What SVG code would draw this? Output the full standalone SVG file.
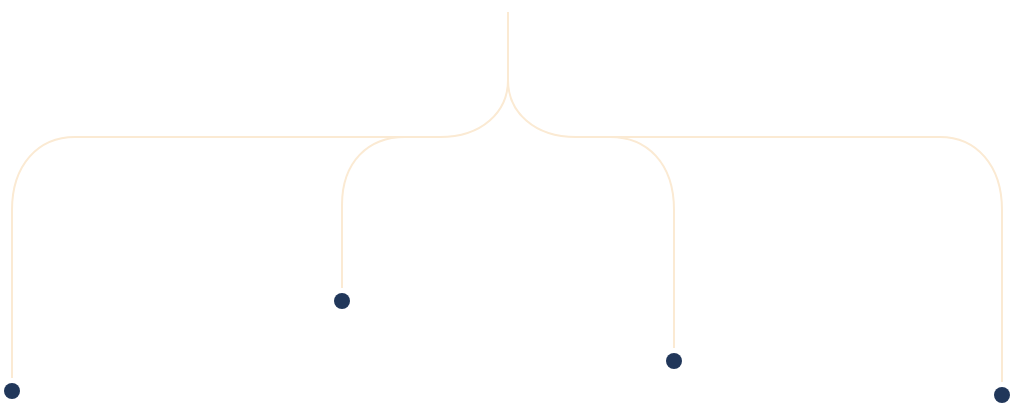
<svg xmlns="http://www.w3.org/2000/svg" width="1014" height="407" viewBox="0 0 1014 407">
<style>
.line{fill:none;stroke:#fbead3;stroke-width:2;stroke-linecap:butt}
.dot{fill:#21375a}
</style>
<rect width="1014" height="407" fill="#ffffff"/>
<g id="connectors">
<path class="line" d="M508,12 V80 C508,112 482,137 440,137 H75 C38,137 12,165 12,210 V378"/>
<path class="line" d="M508,80 C508,112 534,137 576,137 H940 C976,137 1002,165 1002,210 V382"/>
<path class="line" d="M435,137 H405 C368,137 342,162 342,205 V288"/>
<path class="line" d="M576,137 H610 C647,137 674,163 674,210 V348"/>
</g>
<g id="node-1"><circle class="dot" cx="12" cy="391" r="8"/></g>
<g id="node-2"><circle class="dot" cx="342" cy="301" r="8"/></g>
<g id="node-3"><circle class="dot" cx="674" cy="361" r="8"/></g>
<g id="node-4"><circle class="dot" cx="1002" cy="395" r="8"/></g>
</svg>
